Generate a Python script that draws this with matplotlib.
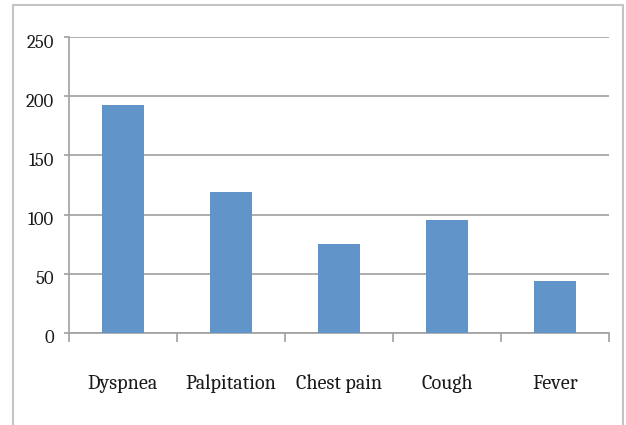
import matplotlib
matplotlib.use("Agg")
import matplotlib.pyplot as plt
import matplotlib.transforms as mtransforms
from matplotlib.patches import Rectangle
import numpy as np

# ---- data ----
categories = ["Dyspnea", "Palpitation", "Chest pain", "Cough", "Fever"]
counts = [193, 119, 75, 95, 44]
y_ticks = [0, 50, 100, 150, 200, 250]

plt.rcParams['font.family'] = ['Caladea', 'Liberation Serif', 'DejaVu Serif']

W, H = 626, 425
fig = plt.figure(figsize=(W / 100, H / 100), dpi=100)
fig.patch.set_facecolor("white")

left, right = 68.7 / W, 609.3 / W
bottom, top = 1 - 332.7 / H, 1 - 37.3 / H
ax = fig.add_axes([left, bottom, right - left, top - bottom])

grid_c = "#a0a0a0"
bar_c = "#6194c9"

x = np.arange(len(categories))
ax.bar(x, counts, width=0.39, color=bar_c, zorder=3)

ax.set_xlim(-0.5, len(categories) - 0.5)
ax.set_ylim(0, 250)
ax.set_yticks(y_ticks)
ax.set_yticklabels([str(v) for v in y_ticks])
ax.yaxis.grid(True, color=grid_c, linewidth=1.2, zorder=0)
ax.set_axisbelow(True)

for s in ["top", "right"]:
    ax.spines[s].set_visible(False)
for s in ["left", "bottom"]:
    ax.spines[s].set_color(grid_c)
    ax.spines[s].set_linewidth(1.2)

ax.tick_params(axis="y", length=3.5, width=1.2, color=grid_c, pad=7,
               labelsize=13.5, labelcolor="#1a1a1a")
ax.set_xticks(x)
ax.set_xticklabels(categories)
ax.set_xticks(np.arange(-0.5, len(categories), 1.0), minor=True)
ax.tick_params(axis="x", which="major", length=0, pad=30, labelsize=14.5, labelcolor="#1a1a1a")
ax.tick_params(axis="x", which="minor", length=6.5, width=1.2, color=grid_c)

# nudge y tick labels down slightly as in the reference
off = mtransforms.ScaledTranslation(0, -3 / 72, fig.dpi_scale_trans)
for lab in ax.get_yticklabels():
    lab.set_transform(lab.get_transform() + off)

# outer chart frame
frame = Rectangle((13 / W, -0.05), (623 - 13) / W, 1 - 5 / H + 0.05,
                  transform=fig.transFigure, fill=False, edgecolor="#c4c4c4",
                  linewidth=1.5, zorder=0)
fig.patches.append(frame)

fig.savefig("out.png", dpi=100, facecolor="white")
